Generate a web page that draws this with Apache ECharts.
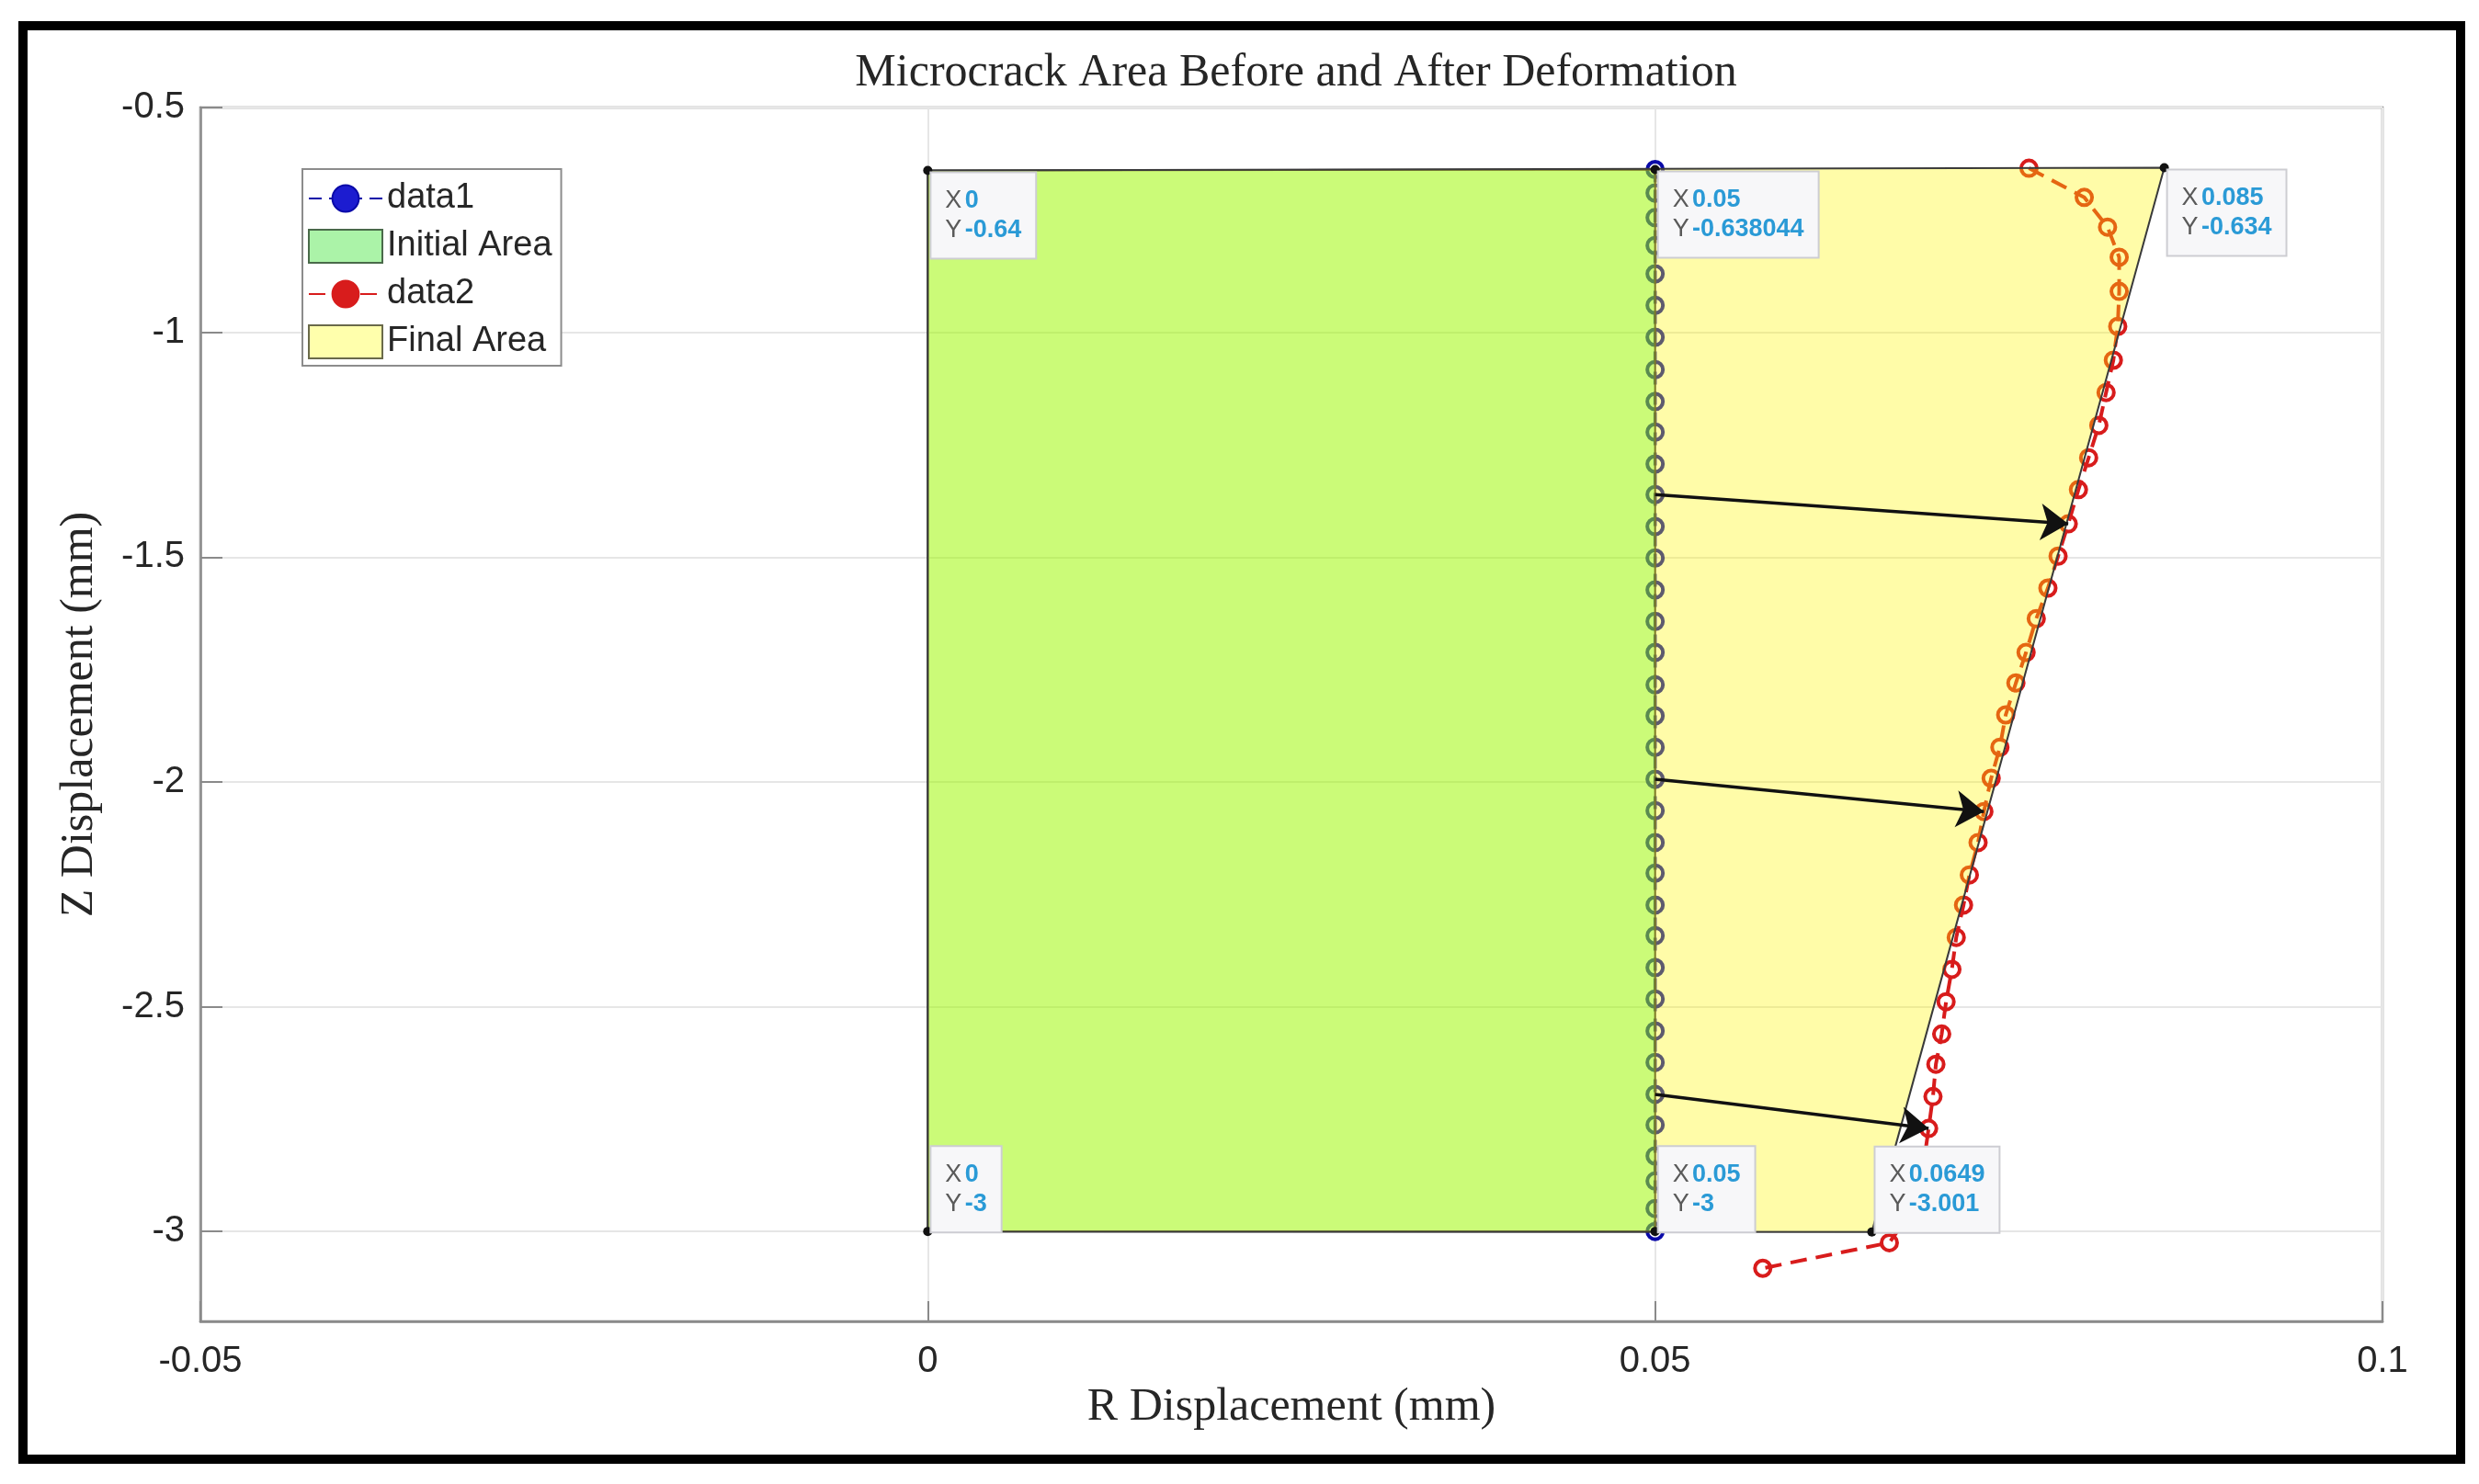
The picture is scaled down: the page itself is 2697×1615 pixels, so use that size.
<!DOCTYPE html>
<html lang="en">
<head>
<meta charset="UTF-8" />
<title>Microcrack Area Before and After Deformation</title>
<style>
  html, body { margin: 0; padding: 0; background: #fff; }
  #main { width: 2697px; height: 1615px; }
</style>
</head>
<body>
<div id="main"></div>
<script src="https://cdn.jsdelivr.net/npm/echarts@6/dist/echarts.min.js"></script>
<script>
// data1 : crack edge before deformation (r = 0.05)
var data1R = 0.05;
var data1Z = [-0.638, -0.690, -0.745, -0.807, -0.870, -0.940, -1.011, -1.083, -1.154, -1.222,
  -1.293, -1.361, -1.432, -1.502, -1.573, -1.643, -1.712, -1.784, -1.853, -1.923,
  -1.994, -2.064, -2.135, -2.203, -2.274, -2.342, -2.413, -2.483, -2.554, -2.624,
  -2.695, -2.763, -2.832, -2.888, -2.949, -3.000];

// data2 : crack edge after deformation
var data2R = [0.0757, 0.0795, 0.0811, 0.0819, 0.0819, 0.0818, 0.0815, 0.0810, 0.0805, 0.0798,
  0.0791, 0.0784, 0.0777, 0.0770, 0.0762, 0.0755, 0.0748, 0.0741, 0.0737, 0.0731,
  0.0726, 0.0722, 0.0716, 0.0712, 0.0707, 0.0704, 0.0700, 0.0697, 0.0693, 0.0691,
  0.0688, 0.0685, 0.0680, 0.0674, 0.0661, 0.0574];
var data2Z = [-0.635, -0.700, -0.766, -0.833, -0.909, -0.987, -1.062, -1.134, -1.207, -1.279,
  -1.350, -1.426, -1.498, -1.569, -1.637, -1.712, -1.780, -1.851, -1.923, -1.992,
  -2.066, -2.135, -2.207, -2.274, -2.346, -2.417, -2.489, -2.561, -2.628, -2.700,
  -2.771, -2.840, -2.905, -2.965, -3.025, -3.082];

// data tips (corners of the areas)
var tipR = [0, 0.05, 0.085, 0, 0.05, 0.0649];
var tipZ = [-0.64, -0.638044, -0.634, -3, -3, -3.001];
var tipBelow = [true, true, true, false, false, false]; // box hangs below the point?

// area outlines, as indexes into the tips
var initialIdx = [0, 1, 4, 3];
var finalIdx = [0, 2, 5, 3];

// arrows go from data1[i] to data2[i]
var arrowIdx = [11, 20, 30];

var yTicks = [-3, -2.5, -2, -1.5, -1, -0.5];

var tickFont = 'Liberation Sans';
var serif = 'Liberation Serif';

var pts1 = data1Z.map(function (z) { return [data1R, z]; });
var pts2 = data2Z.map(function (z, i) { return [data2R[i], z]; });
var initialArea = initialIdx.map(function (i) { return [tipR[i], tipZ[i]]; });
var finalArea = finalIdx.map(function (i) { return [tipR[i], tipZ[i]]; });

var arrows = arrowIdx.map(function (i) {
  return { coords: [[data1R, data1Z[i]], [data2R[i], data2Z[i]]] };
});

var tips = tipR.map(function (r, i) {
  return {
    value: [r, tipZ[i]],
    label: {
      position: tipBelow[i] ? [9, 8] : [9, 5],
      verticalAlign: tipBelow[i] ? 'top' : 'bottom'
    }
  };
});

function polygon(verts, fill) {
  return function (params, api) {
    if (params.dataIndex !== 0) return null;
    return {
      type: 'polygon',
      shape: { points: verts.map(function (v) { return api.coord(v); }) },
      style: { fill: fill, stroke: '#3a3a3a', lineWidth: 2 }
    };
  };
}

var GREEN = 'rgba(0,250,20,0.31)';
var YELLOW = 'rgba(255,246,0,0.34)';

var myChart = echarts.init(document.getElementById('main'));
var option = {
  backgroundColor: '#fff',
  animation: false,
  title: {
    text: 'Microcrack Area Before and After Deformation',
    left: 1405,
    textAlign: 'center',
    top: 50,
    textStyle: { fontFamily: serif, fontSize: 50, fontWeight: 'normal', color: '#262626' }
  },
  graphic: [{
    type: 'rect',
    shape: { x: 25, y: 28, width: 2652, height: 1560 },
    style: { fill: 'none', stroke: '#000', lineWidth: 10 },
    silent: true
  }],
  legend: {
    orient: 'vertical',
    left: 329,
    top: 184,
    padding: [13, 10, 7, 6],
    itemGap: 14,
    itemWidth: 80,
    itemHeight: 36,
    backgroundColor: '#fff',
    borderColor: '#8c8c8c',
    borderWidth: 2,
    borderRadius: 0,
    textStyle: { fontFamily: tickFont, fontSize: 38, color: '#262626' },
    data: [
      { name: 'data1', itemStyle: { color: '#1c1cd0' } },
      { name: 'Initial Area', icon: 'rect', itemStyle: { color: '#abf3a8', borderColor: '#4a6a4a', borderWidth: 2 } },
      { name: 'data2', itemStyle: { color: '#d81c1c' } },
      { name: 'Final Area', icon: 'rect', itemStyle: { color: '#ffffac', borderColor: '#6a6a4a', borderWidth: 2 } }
    ]
  },
  grid: {
    left: 218, right: 105, top: 117, bottom: 177,
    show: true, borderColor: '#8a8a8a', borderWidth: 2.5, backgroundColor: 'transparent'
  },
  xAxis: {
    type: 'value',
    min: -0.05, max: 0.1, interval: 0.05,
    name: 'R Displacement (mm)',
    nameLocation: 'middle',
    nameGap: 66,
    nameTextStyle: { fontFamily: serif, fontSize: 50, color: '#262626' },
    axisLine: { onZero: false, lineStyle: { color: '#8a8a8a', width: 2.5 } },
    axisTick: { inside: true, length: 22, lineStyle: { color: '#8a8a8a', width: 2 } },
    axisLabel: { margin: 24, fontFamily: tickFont, fontSize: 40, color: '#262626' },
    splitLine: { show: true, lineStyle: { color: '#e6e6e6', width: 2 } }
  },
  yAxis: {
    type: 'value',
    min: -3.2, max: -0.5,
    name: 'Z Displacement (mm)',
    nameLocation: 'middle',
    nameRotate: 90,
    nameGap: 106,
    nameTextStyle: { fontFamily: serif, fontSize: 50, color: '#262626' },
    axisLine: { show: true, onZero: false, lineStyle: { color: '#8a8a8a', width: 2.5 } },
    axisTick: { show: true, inside: true, length: 24, customValues: yTicks, lineStyle: { color: '#8a8a8a', width: 2 } },
    axisLabel: { margin: 17, fontFamily: tickFont, fontSize: 40, color: '#262626', customValues: yTicks },
    splitLine: { show: true, lineStyle: { color: '#e6e6e6', width: 2 } }
  },
  series: [
    {
      name: 'data1',
      type: 'line',
      data: pts1,
      symbol: 'circle',
      symbolSize: 17,
      itemStyle: { color: 'rgba(255,255,255,0)', borderColor: '#0a0aa8', borderWidth: 4 },
      lineStyle: { color: '#0a0aa8', width: 3.5, type: [14, 8] },
      z: 2
    },
    {
      name: 'Initial Area',
      type: 'custom',
      data: initialArea,
      renderItem: polygon(initialArea, GREEN),
      itemStyle: { color: '#abf3a8' },
      z: 3
    },
    {
      name: 'data2',
      type: 'line',
      data: pts2,
      symbol: 'circle',
      symbolSize: 17,
      itemStyle: { color: 'rgba(255,255,255,0)', borderColor: '#d81c1c', borderWidth: 4 },
      lineStyle: { color: '#d81c1c', width: 4, type: [18, 10] },
      z: 4
    },
    {
      name: 'Final Area',
      type: 'custom',
      data: finalArea,
      renderItem: polygon(finalArea, YELLOW),
      itemStyle: { color: '#ffffac' },
      z: 5
    },
    {
      name: 'arrows',
      type: 'lines',
      coordinateSystem: 'cartesian2d',
      data: arrows,
      symbol: ['none', 'arrow'],
      symbolSize: 30,
      lineStyle: { color: '#111', width: 3.5, opacity: 1 },
      z: 6
    },
    {
      name: 'tips',
      type: 'scatter',
      data: tips,
      symbol: 'circle',
      symbolSize: 10,
      itemStyle: { color: '#111', opacity: 1 },
      z: 7,
      label: {
        show: true,
        align: 'left',
        formatter: function (p) {
          return '{k|X} {v|' + p.value[0] + '}\n{k|Y} {v|' + p.value[1] + '}';
        },
        backgroundColor: '#f7f7f9',
        borderColor: '#cdcdd2',
        borderWidth: 2,
        padding: [14, 15, 14, 15],
        rich: {
          k: { fontFamily: tickFont, fontSize: 27, color: '#5a5a5a', lineHeight: 32 },
          v: { fontFamily: tickFont, fontSize: 27, color: '#2a9ad6', fontWeight: 'bold', lineHeight: 32 }
        }
      }
    }
  ]
};
myChart.setOption(option);
</script>
</body>
</html>
